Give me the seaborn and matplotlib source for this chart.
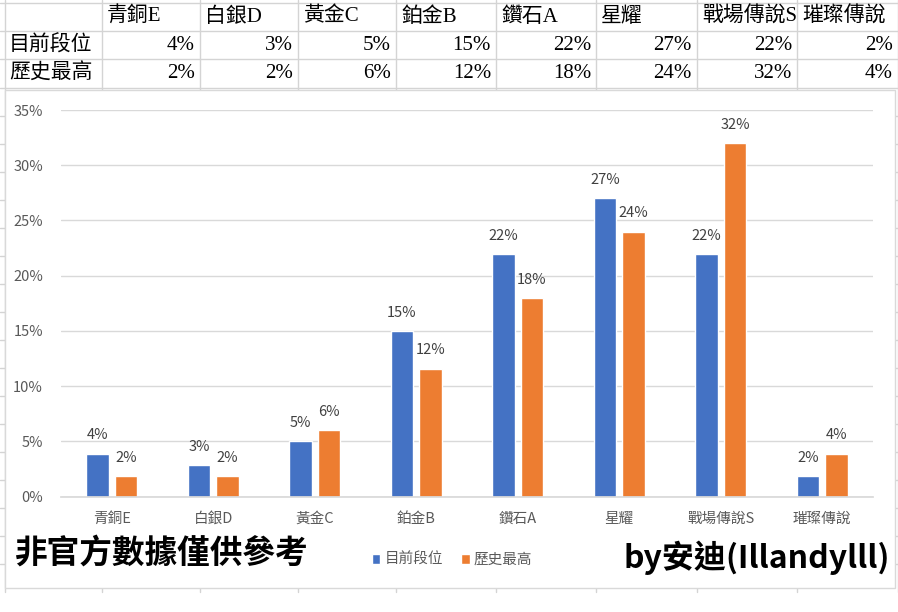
import matplotlib
import matplotlib.pyplot as plt
import pandas as pd
import seaborn as sns
from matplotlib.patches import Rectangle

matplotlib.use("Agg")

# ── Data ──────────────────────────────────────────────────────────────────────
categories = ["青銅E", "白銀D", "黃金C", "鉑金B", "鑽石A", "星耀", "戰場傳說S", "璀璨傳說"]
current_rank = [3.9, 2.9, 5.0, 15.0, 22.0, 27.0, 22.0, 1.9]
highest_rank = [1.9, 1.9, 6.0, 11.6, 18.0, 24.0, 32.0, 3.9]
series_names = ["目前段位", "歷史最高"]
y_ticks = [0, 5, 10, 15, 20, 25, 30, 35]

BLUE = "#4472C4"
ORANGE = "#ED7D31"
GRAY_TEXT = "#595959"
GRID = "#D9D9D9"
CELL = "#D4D4D4"

sns.set_theme(style="white")
plt.rcParams["font.family"] = ["Noto Sans CJK TC", "DejaVu Sans"]
SERIF = ["Liberation Serif", "Noto Sans CJK TC"]

df = pd.DataFrame({
    "段位": categories * 2,
    "比例": current_rank + highest_rank,
    "系列": [series_names[0]] * len(categories) + [series_names[1]] * len(categories),
})

W, H = 898, 612
fig = plt.figure(figsize=(W / 100, H / 100), dpi=100)
fig.patch.set_facecolor("white")

# ── Spreadsheet background (pixel coords) ────────────────────────────────────
bg = fig.add_axes([0, 0, 1, 1], zorder=0)
bg.set_xlim(0, W)
bg.set_ylim(H, 0)
bg.axis("off")

col_edges = [5, 102, 200, 298, 396, 496, 596, 697, 797, 898]
row_edges = [3, 31, 59, 88]
for y in row_edges + list(range(116, 592, 28)):
    bg.plot([0, W], [y, y], color=CELL, lw=1)
for x in col_edges:
    bg.plot([x, x], [0, 592], color=CELL, lw=1)

# table texts
row_mid = [17, 45, 73]
for i, cat in enumerate(categories):
    bg.text(col_edges[i + 1] + 5, row_mid[0], cat, family=SERIF, fontsize=15,
            ha="left", va="center", color="black")
for r, (name, vals) in enumerate(zip(series_names, [current_rank, highest_rank])):
    bg.text(9, row_mid[r + 1], name, family=SERIF, fontsize=15,
            ha="left", va="center", color="black")
    for i, v in enumerate(vals):
        bg.text(col_edges[i + 2] - 5, row_mid[r + 1], f"{v:.0f}%", family=SERIF,
                fontsize=15, ha="right", va="center", color="black")

# chart frame
bg.add_patch(Rectangle((5, 90), 890, 498, facecolor="white", edgecolor=GRID, lw=1, zorder=3))

# ── Chart ─────────────────────────────────────────────────────────────────────
left, right, top, bottom = 61, 873, 110, 496.7
ax = fig.add_axes([left / W, 1 - bottom / H, (right - left) / W, (bottom - top) / H], zorder=2)
ax.patch.set_alpha(0)

sns.barplot(data=df, x="段位", y="比例", hue="系列", palette=[BLUE, ORANGE],
            width=0.56, gap=0.21, ax=ax, legend=True, saturation=1)

for cont, vals in zip(ax.containers, [current_rank, highest_rank]):
    ax.bar_label(cont, labels=[f"{v:.0f}%" for v in vals], padding=8,
                 fontsize=10.5, color="#404040")

ax.set_xlim(-0.5, len(categories) - 0.5)
ax.set_ylim(0, 35)
ax.set_yticks(y_ticks)
ax.set_yticklabels([f"{t}%" for t in y_ticks])
ax.yaxis.grid(True, color=GRID, lw=1)
ax.set_axisbelow(True)
ax.set_xlabel("")
ax.set_ylabel("")
for s in ["top", "right", "left"]:
    ax.spines[s].set_visible(False)
ax.spines["bottom"].set_color(GRID)
ax.tick_params(axis="y", length=0, pad=13, labelsize=10.5, labelcolor=GRAY_TEXT)
ax.tick_params(axis="x", length=0, pad=11, labelsize=10.5, labelcolor=GRAY_TEXT)

leg = ax.legend(loc="center", bbox_to_anchor=(452 / W, 1 - 560 / H),
                bbox_transform=fig.transFigure, ncol=2, frameon=False,
                handlelength=0.6, handleheight=0.6, handletextpad=0.3,
                columnspacing=1.2, fontsize=10.5)
for t in leg.get_texts():
    t.set_color(GRAY_TEXT)

# ── Annotations ───────────────────────────────────────────────────────────────
fig.text(15 / W, 1 - 553 / H, "非官方數據僅供參考", fontsize=23.5, fontweight="bold",
         ha="left", va="center", color="black")
fig.text(890 / W, 1 - 558 / H, "by安迪(Illandylll)", fontsize=23, fontweight="bold",
         ha="right", va="center", color="black")

fig.savefig("out.png", dpi=100, facecolor="white")
plt.close(fig)
